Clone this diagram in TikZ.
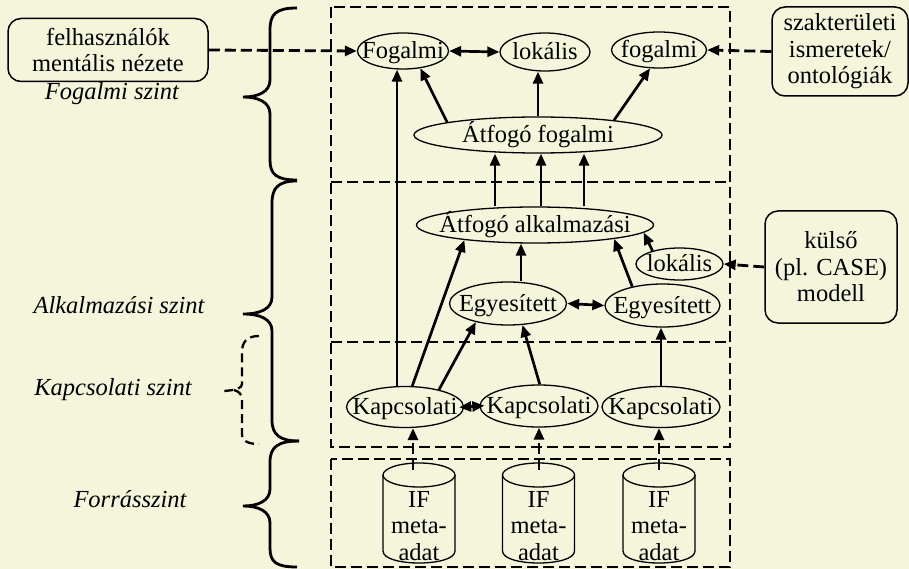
\documentclass[tikz,border=0pt]{standalone}
\usepackage{fontspec}
\setmainfont{Liberation Serif}
\usetikzlibrary{arrows.meta,shapes.geometric,calc}
\definecolor{bgc}{RGB}{245,245,220}
\newcommand\mk[1]{\makebox[0pt]{#1}}
\begin{document}
\begin{tikzpicture}[x=1pt,y=-1pt,
  every node/.style={font=\fontsize{24.5}{26.5}\selectfont},
  ell/.style 2 args={ellipse,draw,line width=1.3pt,inner sep=0pt,minimum width=#1,minimum height=#2,text height=15.5pt,text depth=0pt},
  rbox/.style={draw,line width=1.5pt,rounded corners=13pt,align=center,inner sep=0pt},
  tip/.style={},
  arr/.style={line width=2.7pt,-{Triangle[length=12pt,width=10pt]}},
  dbl/.style={line width=2.7pt,{Triangle[length=12pt,width=10pt]}-{Triangle[length=12pt,width=10pt]}},
  dsh/.style={line width=2.8pt,dash pattern=on 11pt off 5pt},
  darr/.style={dsh,-{Triangle[length=12pt,width=10pt]}},
  brc/.style={line width=2.8pt},
  dbrc/.style={line width=2.3pt,dash pattern=on 9pt off 5pt},
  cyl/.style={line width=1.3pt},
  lbl/.style={anchor=base,font=\fontsize{24.5}{26.5}\selectfont\itshape},
]
\useasboundingbox (0,0) rectangle (909,569);
\fill[bgc] (0,0) rectangle (909,569);

% dashed level boxes
\draw[dsh] (331,7) rectangle (730,447);
\draw[dsh] (331,182) -- (730,182);
\draw[dsh] (331,342) -- (730,342);
\draw[dsh] (331,459) rectangle (730,567);

% braces
\draw[brc] (297,8) .. controls (276,8) and (270,14) .. (270,30) -- (270,80)
  .. controls (270,92) and (258,97) .. (243,97)
  .. controls (258,97) and (270,102) .. (270,114) -- (270,160)
  .. controls (270,174) and (276,180) .. (297,180);
\draw[brc] (297,181) .. controls (278,181) and (272,188) .. (272,203) -- (272,297)
  .. controls (272,309) and (260,314) .. (243,314)
  .. controls (260,314) and (272,319) .. (272,331) -- (272,420)
  .. controls (272,435) and (280,441) .. (299,441);
\draw[brc] (299,441) .. controls (278,441) and (270,447) .. (270,462) -- (270,489)
  .. controls (270,501) and (258,506) .. (243,506)
  .. controls (258,506) and (270,511) .. (270,523) -- (270,548)
  .. controls (270,562) and (276,567) .. (297,567);
\draw[dbrc] (259,336) .. controls (247,336) and (242,342) .. (242,352) -- (242,384)
  .. controls (242,388) and (237,390) .. (224,391);
\draw[dbrc] (234,390) .. controls (238,391) and (242,394) .. (242,399) -- (242,434)
  .. controls (242,441) and (248,444) .. (259,444);

% side boxes
\node[rbox,minimum width=200pt,minimum height=63pt] (fb) at (108,50) {felhasználók\\mentális nézete};
\node[rbox,minimum width=136pt,minimum height=89pt] (szak) at (840,51.5) {szakterületi\\ismeretek/\\ontológiák};
\node[rbox,minimum width=132pt,minimum height=112pt] (kuls) at (831,267) {külső\\(pl. CASE)\\modell};

% level labels
\node[lbl] (l1) at (112,100) {Fogalmi szint};
\node[lbl] (l2) at (119,313) {Alkalmazási szint};
\node[lbl] (l3) at (113,395) {Kapcsolati szint};
\node[lbl] (l4) at (130,507) {Forrásszint};

% ellipses
\node[ell={91pt}{36pt}] (fog) at (403,51) {\mk{Fogalmi}};
\node[ell={90pt}{38pt}] (lok1) at (545,52) {\mk{lokális}};
\node[ell={95pt}{36pt}] (fog2) at (659,50) {\mk{fogalmi}};
\node[ell={248pt}{36pt}] (aff) at (538,135) {\mk{Átfogó fogalmi}};
\node[ell={237pt}{36pt}] (aal) at (535,225) {\mk{Átfogó alkalmazási}};
\node[ell={87pt}{32pt}] (lok2) at (679.5,264) {\mk{lokális}};
\node[ell={117pt}{43pt}] (egy1) at (508,303.5) {\mk{Egyesített}};
\node[ell={115pt}{43pt}] (egy2) at (662.5,305.5) {\mk{Egyesített}};
\node[ell={117pt}{41pt}] (k1) at (405,407) {\mk{Kapcsolati}};
\node[ell={118pt}{42pt}] (k2) at (539,406) {\mk{Kapcsolati}};
\node[ell={118pt}{41pt}] (k3) at (661,407) {\mk{Kapcsolati}};

% cylinders
\draw[cyl] (419,475) ellipse [x radius=36,y radius=12];
\draw[cyl] (383,475) -- (383,551) .. controls (383,567) and (455,567) .. (455,551) -- (455,475);
\node[align=center] (c1) at (419,526) {IF\\meta-\\adat};
\draw[cyl] (538.5,475) ellipse [x radius=36,y radius=12];
\draw[cyl] (502.5,475) -- (502.5,551) .. controls (502.5,567) and (574.5,567) .. (574.5,551) -- (574.5,475);
\node[align=center] (c2) at (538.5,526) {IF\\meta-\\adat};
\draw[cyl] (659,475) ellipse [x radius=36,y radius=12];
\draw[cyl] (623,475) -- (623,551) .. controls (623,567) and (695,567) .. (695,551) -- (695,475);
\node[align=center] (c3) at (659,526) {IF\\meta-\\adat};
\coordinate (c1t) at (413,470);
\coordinate (c2t) at (539,470);
\coordinate (c3t) at (659,470);

% helper coordinates
\coordinate (k1t) at ($(k1.north)+(-8,0)$);
\coordinate (v1) at ($(aal.north)+(-40,0)$);
\coordinate (v2) at ($(aal.north)+(6,0)$);
\coordinate (v3) at ($(aal.north)+(49,0)$);
\coordinate (e1t) at ($(egy1.north)+(13,0)$);

% connectors
\draw[darr] (fb.east) -- (fog.west);
\draw[darr] (szak.west) -- (fog2.east);
\draw[darr] (kuls.west) -- (lok2.east);
\draw[dbl] (fog.east) -- (lok1.west);
\draw[arr] (aff.172) -- (fog.-45);
\draw[arr] (aff.north) -- (aff.north |- lok1.south);
\draw[arr] (aff.11) -- (fog2.-116);
\draw[arr] (k1t) -- (k1t |- fog.south);
\draw[arr] (v1) -- (v1 |- aff.south);
\draw[arr] (v2) -- (v2 |- aff.south);
\draw[arr] (v3) -- (v3 |- aff.south);
\draw[arr] (k1.71) -- (aal.-168);
\draw[arr] (k1.27) -- (egy1.-150);
\draw[arr] (k2.88) -- (egy1.-56);
\draw[arr] (e1t) -- (e1t |- aal.south);
\draw[arr] (egy2.148) -- (aal.-10);
\draw[arr] (lok2.154) -- (aal.-4);
\draw[dbl] (egy1.east) -- (egy2.west);
\draw[arr] (k3.north) -- (k3.north |- egy2.south);
\draw[dbl,shorten <=-5pt,shorten >=-5pt] (k1.east) -- (k2.west);
\draw[darr] (c1t) -- (c1t |- k1.south);
\draw[darr] (c2t) -- (k2.south);
\draw[darr] (c3t) -- (c3t |- k3.south);
\end{tikzpicture}
\end{document}
